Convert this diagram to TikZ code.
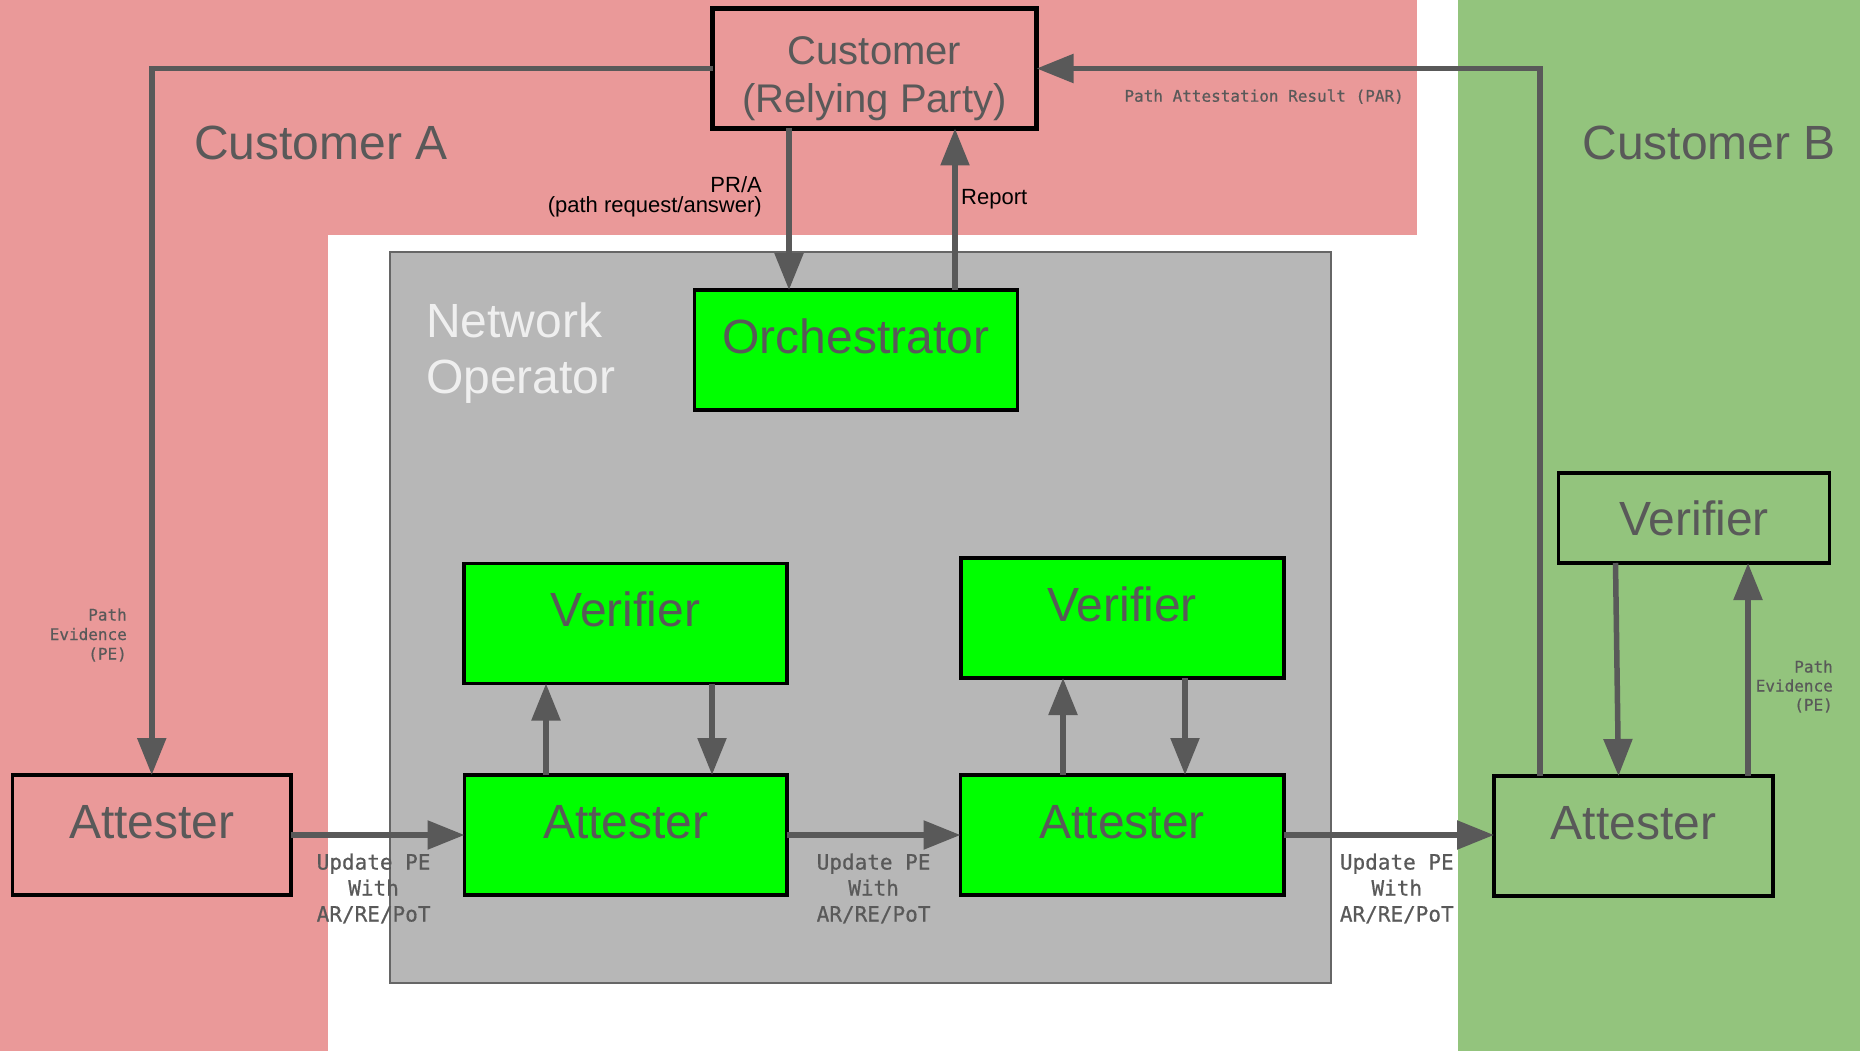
\documentclass[tikz,border=0pt]{standalone}
\usepackage{fontspec}
\setmainfont{Liberation Sans}
\newfontfamily\monof[FakeBold=0.6]{DejaVu Sans Mono}
\usetikzlibrary{arrows.meta}
\definecolor{pinkbg}{HTML}{EA9999}
\definecolor{greenbg}{HTML}{93C47D}
\definecolor{graybg}{HTML}{B7B7B7}
\definecolor{grayedge}{HTML}{666666}
\definecolor{limebox}{HTML}{00FF00}
\definecolor{txtgray}{HTML}{595959}
\definecolor{netwhite}{HTML}{EFEFEF}
\begin{document}
\begin{tikzpicture}[x=1pt,y=-1pt,
  box/.style={draw=black, line width=3.5pt, inner sep=0pt, outer sep=0pt,
    text=txtgray, font=\fontsize{48}{56}\selectfont,
    text height=63pt, text depth=57pt, minimum width=323pt},
  greenbox/.style={box, fill=limebox},
  conn/.style={draw=txtgray, line width=5.5pt, -{Triangle[length=37pt,width=28pt]}},
  bigtext/.style={font=\fontsize{48}{56}\selectfont, inner sep=0pt},
  custtext/.style={font=\fontsize{40}{48}\selectfont, inner sep=0pt, text=txtgray, anchor=base},
  monosmall/.style={font=\monof\fontsize{16}{19}\selectfont, inner sep=0pt, text=txtgray},
  monobig/.style={font=\monof\fontsize{21}{26}\selectfont, inner sep=0pt, text=txtgray, anchor=base},
  sanssmall/.style={font=\fontsize{22}{24}\selectfont, inner sep=0pt, text=black}
]
\useasboundingbox (0,0) rectangle (1860,1051);
\fill[white] (0,0) rectangle (1860,1051);
% regions
\fill[pinkbg] (0,0) rectangle (1417,235);
\fill[pinkbg] (0,0) rectangle (328,1051);
\fill[greenbg] (1458,0) rectangle (1860,1051);
\draw[grayedge, line width=2pt, fill=graybg] (390,252) rectangle (1331,983);

% region titles
\node[bigtext, text=txtgray, anchor=base west] (custA) at (194,160) {Customer A};
\node[bigtext, text=txtgray, anchor=base east] (custB) at (1836,160) {Customer B};
\node[bigtext, text=netwhite, anchor=base west] (netop1) at (426,337) {Network};
\node[bigtext, text=netwhite, anchor=base west] (netop2) at (426,393) {Operator};

% boxes
\node[box, fill=pinkbg, line width=5pt, minimum width=324pt] (cust) at (874.5,68.5) {};
\node[custtext] (custt1) at (874.5,64.5) {Customer};
\node[custtext] (custt2) at (874.5,112.5) {(Relying Party)};

\node[greenbox] (orch) at (856,350) {Orchestrator};
\node[greenbox] (ver1) at (625.5,623.5) {Verifier};
\node[greenbox] (ver2) at (1122.25,618) {Verifier};
\node[greenbox, minimum width=322.5pt] (att1) at (625.75,835) {Attester};
\node[greenbox, minimum width=323.5pt] (att2) at (1122.25,835) {Attester};
\node[box, fill=pinkbg, minimum width=278.5pt] (attA) at (151.75,835) {Attester};
\node[box, fill=greenbg, minimum width=279pt] (attB) at (1633.5,836) {Attester};
\node[box, fill=greenbg, minimum width=271pt, text height=62pt, text depth=28pt] (verB) at (1694,518) {Verifier};

% x positions of connectors
\coordinate (xPR) at (789,0);
\coordinate (xRep) at (955,0);
\coordinate (xPAR) at (1540,0);
\coordinate (xVau) at (546,0);
\coordinate (xVad) at (712,0);
\coordinate (xVbu) at (1063,0);
\coordinate (xVbd) at (1185,0);
\coordinate (xVBd1) at (1615.5,0);
\coordinate (xVBd2) at (1618.5,0);
\coordinate (xVBu) at (1748,0);

% connectors
\draw[conn] (cust.west) -| (attA.north);
\draw[conn] (cust.south -| xPR) -- (orch.north -| xPR);
\draw[conn] (orch.north -| xRep) -- (cust.south -| xRep);
\draw[conn] (attB.north -| xPAR) |- (cust.east);
\draw[conn] (attA.east) -- (att1.west);
\draw[conn] (att1.east) -- (att2.west);
\draw[conn] (att2.east) -- (attB.west |- att2.east);
\draw[conn] (att1.north -| xVau) -- (ver1.south -| xVau);
\draw[conn] (ver1.south -| xVad) -- (att1.north -| xVad);
\draw[conn] (att2.north -| xVbu) -- (ver2.south -| xVbu);
\draw[conn] (ver2.south -| xVbd) -- (att2.north -| xVbd);
\draw[conn] (verB.south -| xVBd1) -- (attB.north -| xVBd2);
\draw[conn] (attB.north -| xVBu) -- (verB.south -| xVBu);

% connector labels
\node[sanssmall, anchor=base east] (pra1) at (762,192.3) {PR/A};
\node[sanssmall, anchor=base east] (pra2) at (762,212.7) {(path request/answer)};
\node[sanssmall, anchor=base west] (rep) at (961,205) {Report};
\node[monosmall, anchor=base east] (par) at (1404,101.7) {Path Attestation Result (PAR)};

\node[monosmall, anchor=base east] (peA1) at (127,620.5) {Path};
\node[monosmall, anchor=base east] (peA2) at (127,640) {Evidence};
\node[monosmall, anchor=base east] (peA3) at (127,659.5) {(PE)};

\node[monosmall, anchor=base east] (peB1) at (1833,672.5) {Path};
\node[monosmall, anchor=base east] (peB2) at (1833,691.5) {Evidence};
\node[monosmall, anchor=base east] (peB3) at (1833,710.5) {(PE)};

\node[monobig] (up1a) at (373.6,869.5) {Update PE};
\node[monobig] (up1b) at (373.6,895.5) {With};
\node[monobig] (up1c) at (373.6,921.5) {AR/RE/PoT};
\node[monobig] (up2a) at (873.6,869.5) {Update PE};
\node[monobig] (up2b) at (873.6,895.5) {With};
\node[monobig] (up2c) at (873.6,921.5) {AR/RE/PoT};
\node[monobig] (up3a) at (1396.8,869.5) {Update PE};
\node[monobig] (up3b) at (1396.8,895.5) {With};
\node[monobig] (up3c) at (1396.8,921.5) {AR/RE/PoT};
\end{tikzpicture}
\end{document}
